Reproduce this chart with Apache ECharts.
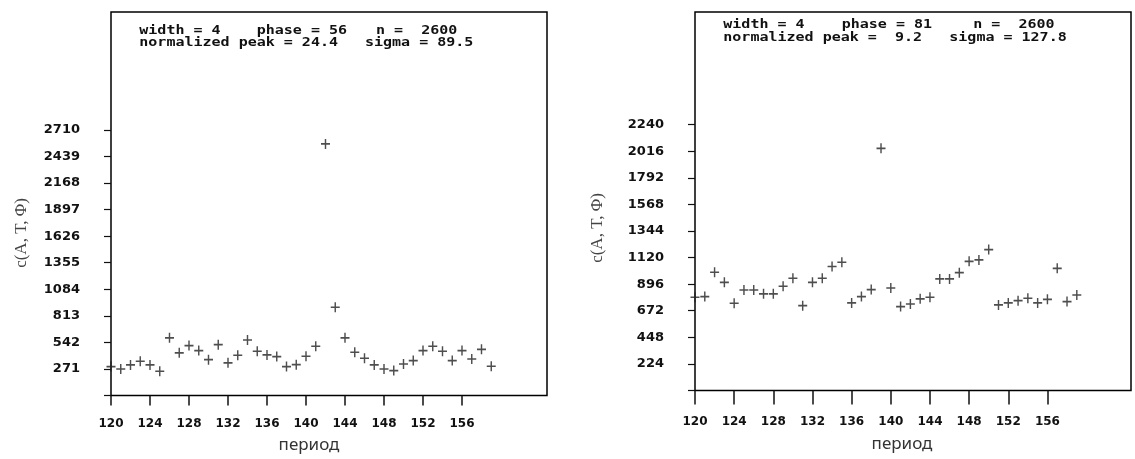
<!DOCTYPE html>
<html>
<head>
<meta charset="utf-8">
<script src="https://cdn.jsdelivr.net/npm/echarts@6/dist/echarts.min.js"></script>
<style>
  html, body { margin: 0; padding: 0; background: #fff; }
  #chart { width: 1135px; height: 459px; }
</style>
</head>
<body>
<div id="chart"></div>
<script>
// ---------- data ----------
var periods = [120,121,122,123,124,125,126,127,128,129,130,131,132,133,134,135,136,137,138,139,
               140,141,142,143,144,145,146,147,148,149,150,151,152,153,154,155,156,157,158,159];
var leftValues = [295,271,312,349,312,247,588,435,509,458,366,519,333,410,567,451,414,397,295,315,
                  400,502,2567,900,588,441,380,312,271,254,322,356,458,502,451,356,458,373,471,298];
var rightValues = [785,791,996,911,735,847,847,814,814,878,945,715,911,945,1044,1080,738,791,850,2040,
                   864,707,729,772,785,940,940,993,1088,1100,1187,721,738,757,777,738,768,1029,749,805];
var xTicks = [120,124,128,132,136,140,144,148,152,156];
var leftYTicks = [271,542,813,1084,1355,1626,1897,2168,2439,2710];
var rightYTicks = [224,448,672,896,1120,1344,1568,1792,2016,2240];
var leftHeader = [["width = 4", "phase = 56", "n =  2600"], ["normalized peak = 24.4", "sigma = 89.5"]];
var rightHeader = [["width = 4", "phase = 81", "n =  2600"], ["normalized peak =  9.2", "sigma = 127.8"]];
var xName = "период";
var yName = "c(A, T, Φ)";

// ---------- layout ----------
var L = { fl: 111, fr: 547, ft: 12, fb: 395.5, pxX: 9.75, pxTick: 26.56,
          head: [[139.3, 256.7, 376], [139.3, 365]], headY: [30.5, 42.5],
          yNameX: 22, yNameY: 233, xNameX: 309, xNameY: 445, tickX: 10, xLabMargin: 22 };
var R = { fl: 695, fr: 1131, ft: 12, fb: 390.5, pxX: 9.79, pxTick: 26.59,
          head: [[723.3, 841.7, 973.3], [723.3, 949.3]], headY: [25, 37.5],
          yNameX: 598, yNameY: 228, xNameX: 902, xNameY: 444, tickX: 14, xLabMargin: 25 };

var labelFont = 'DejaVu Sans';
var plusPath = 'path://M4.2,0 H5.8 V4.2 H10 V5.8 H5.8 V10 H4.2 V5.8 H0 V4.2 H4.2 Z';

function build(P, yTicks, vals, idx, header) {
  var xMin = xTicks[0], xDispMax = xTicks[xTicks.length - 1];
  var step = yTicks[0];
  var yDispMax = yTicks[yTicks.length - 1];
  var nTicks = yTicks.length;
  var dispW = (xDispMax - xMin) * P.pxX;
  var dispH = nTicks * P.pxTick;
  var fw = P.fr - P.fl, fh = P.fb - P.ft;
  var grids = [
    { left: P.fl, top: P.ft, width: fw, height: fh, show: true, borderColor: '#000', borderWidth: 1.5,
      backgroundColor: 'transparent', outerBoundsMode: 'none', containLabel: false },
    { left: P.fl, top: P.fb - dispH, width: dispW, height: dispH, show: false,
      outerBoundsMode: 'none', containLabel: false }
  ];
  var xAxes = [
    { type: 'value', gridIndex: idx, show: false, min: xMin, max: xMin + fw / P.pxX },
    { type: 'value', gridIndex: idx + 1, min: xMin, max: xDispMax, interval: xTicks[1] - xTicks[0],
      axisLine: { show: false }, splitLine: { show: false },
      axisTick: { show: true, inside: false, length: P.tickX, lineStyle: { color: '#111', width: 1.5 } },
      axisLabel: { show: true, margin: P.xLabMargin, color: '#111', fontFamily: labelFont, fontWeight: 'bold', fontSize: 12 } }
  ];
  var yAxes = [
    { type: 'value', gridIndex: idx, show: false, min: 0, max: fh / P.pxTick * step },
    { type: 'value', gridIndex: idx + 1, min: 0, max: yDispMax, interval: step,
      axisLine: { show: false }, splitLine: { show: false },
      axisTick: { show: true, inside: false, length: 7, lineStyle: { color: '#111', width: 1.2 } },
      axisLabel: { show: true, margin: 31, color: '#111', fontFamily: labelFont, fontWeight: 'bold', fontSize: 13,
                   formatter: function (v) { return v === 0 ? '' : String(v); } } }
  ];
  var series = {
    type: 'scatter', xAxisIndex: idx, yAxisIndex: idx,
    data: periods.map(function (p, i) { return [p, vals[i]]; }),
    symbol: plusPath, symbolSize: [9, 10],
    itemStyle: { color: '#222' }, clip: false
  };
  var graphics = [];
  header.forEach(function (line, li) {
    line.forEach(function (seg, si) {
      graphics.push({ type: 'text', x: P.head[li][si], y: P.headY[li], scaleX: 1.25, silent: true,
        style: { text: seg, font: 'bold 12px "DejaVu Sans Mono"', fill: '#111',
                 textAlign: 'left', textVerticalAlign: 'middle', verticalAlign: 'middle' } });
    });
  });
  graphics.push({ type: 'text', x: P.yNameX, y: P.yNameY, rotation: Math.PI / 2, silent: true,
    style: { text: yName, font: '17px "Liberation Serif"', fill: '#444',
             textAlign: 'center', textVerticalAlign: 'middle', verticalAlign: 'middle' } });
  graphics.push({ type: 'text', x: P.xNameX, y: P.xNameY, silent: true,
    style: { text: xName, font: '17px "Noto Sans"', fill: '#333',
             textAlign: 'center', textVerticalAlign: 'middle', verticalAlign: 'middle' } });
  return { grids: grids, xAxes: xAxes, yAxes: yAxes, series: series, graphics: graphics };
}

var a = build(L, leftYTicks, leftValues, 0, leftHeader);
var b = build(R, rightYTicks, rightValues, 2, rightHeader);

var chart = echarts.init(document.getElementById('chart'), null, { renderer: 'canvas' });
chart.setOption({
  animation: false,
  backgroundColor: '#fff',
  grid: a.grids.concat(b.grids),
  xAxis: a.xAxes.concat(b.xAxes),
  yAxis: a.yAxes.concat(b.yAxes),
  series: [a.series, b.series],
  graphic: a.graphics.concat(b.graphics)
});
</script>
</body>
</html>
